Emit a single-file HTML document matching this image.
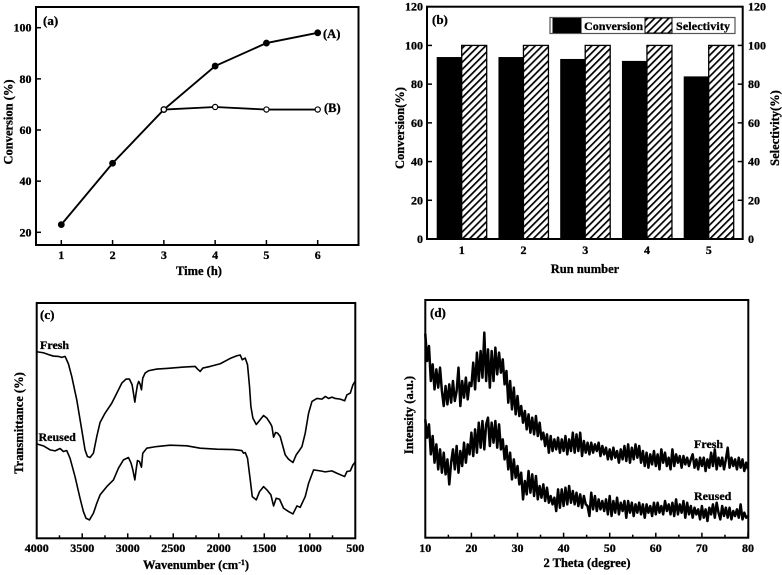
<!DOCTYPE html>
<html>
<head>
<meta charset="utf-8">
<title>Catalyst performance panels</title>
<style>
html,body{margin:0;padding:0;background:#fff;}
#figure{display:block;width:782px;height:575px;filter:blur(0.35px);}
text{font-family:"Liberation Serif",serif;font-weight:bold;fill:#000;stroke:#000;stroke-width:0.3px;font-size:12px;}
.title{font-size:12.5px;}
</style>
</head>
<body>
<svg id="figure" xmlns="http://www.w3.org/2000/svg" width="782" height="575" viewBox="0 0 782 575">
<defs>
<pattern id="hatch" patternUnits="userSpaceOnUse" width="5" height="5" patternTransform="rotate(45)">
<rect width="5" height="5" fill="#fff"/>
<rect width="1.7" height="5" fill="#000"/>
</pattern>
</defs>
<g id="panel-a"></g>
<g id="panel-b"></g>
<g id="panel-c"></g>
<g id="panel-d"></g>

<text x="43" y="25" style="font-size:13px">(a)</text>
<text x="323" y="38" style="font-size:12.5px">(A)</text>
<text x="324" y="112" style="font-size:12.5px">(B)</text>
<text class="title" x="199" y="275" text-anchor="middle">Time (h)</text>
<text class="title" transform="translate(12.5,122) rotate(-90)" text-anchor="middle">Conversion (%)</text>

<text x="432" y="24" style="font-size:13px">(b)</text>
<text class="title" x="585" y="273" text-anchor="middle">Run number</text>
<text class="title" transform="translate(404,128) rotate(-90)" text-anchor="middle">Conversion(%)</text>
<text class="title" transform="translate(779,128) rotate(-90)" text-anchor="middle">Selectivity(%)</text>

<text x="40" y="319" style="font-size:13px">(c)</text>
<text x="40" y="349">Fresh</text>
<text x="38.5" y="441">Reused</text>
<text class="title" x="196" y="569" text-anchor="middle">Wavenumber (cm<tspan dy="-4" style="font-size:8px">-1</tspan><tspan dy="4">)</tspan></text>
<text class="title" transform="translate(23,423) rotate(-90)" text-anchor="middle">Transmittance (%)</text>

<text x="430" y="317" style="font-size:13px">(d)</text>
<text x="694" y="448">Fresh</text>
<text x="694" y="500">Reused</text>
<text class="title" x="587" y="567" text-anchor="middle">2 Theta (degree)</text>
<text class="title" transform="translate(413,415) rotate(-90)" text-anchor="middle">Intensity (a.u.)</text>
</svg>

<script>
// Panel (a)
var timeTicks = [1, 2, 3, 4, 5, 6];
var conversionTicks = [20, 40, 60, 80, 100];
var seriesATime = [1, 2, 3, 4, 5, 6];
var seriesAValues = [23, 47, 68, 85, 94, 98];
var seriesBTime = [3, 4, 5, 6];
var seriesBValues = [68, 69, 68, 68];

// Panel (b)
var runNumbers = [1, 2, 3, 4, 5];
var runConversion = [94, 94, 93, 92, 84];
var runSelectivity = [100, 100, 100, 100, 100];
var percentTicks = [0, 20, 40, 60, 80, 100, 120];

// Panel (c)
var wavenumberMajorTicks = [4000, 3500, 3000, 2500, 2000, 1500, 1000, 500];
var wavenumberMinorTicks = [3750, 3250, 2750, 2250, 1750, 1250, 750];
var ftirFreshWave = [4000,3927,3853,3817,3762,3725,3688,3652,3615,3560,3505,3469,3443,3414,3377,3340,3304,3249,3175,3120,3065,3018,2981,2952,2937,2922,2908,2893,2879,2864,2849,2835,2809,2772,2681,2571,2387,2259,2233,2204,2175,2094,1984,1874,1801,1764,1742,1709,1684,1662,1647,1625,1588,1552,1508,1471,1435,1416,1398,1376,1354,1325,1295,1270,1233,1185,1149,1123,1086,1050,1013,976,921,866,830,793,757,720,665,617,592,555,526,496];
var ftirFreshValues = [559,556,549,546,545,542,545,523,485,415,325,265,245,242,255,305,347,375,405,435,465,477,477,460,435,408,435,460,470,462,445,480,495,502,507,509,513,515,507,500,510,515,523,539,547,549,535,540,520,455,395,360,341,353,368,360,345,335,303,317,315,305,275,250,237,227,250,260,275,315,375,410,419,417,425,419,423,419,417,412,430,435,460,473];
var ftirReusedWave = [4000,3927,3853,3798,3743,3707,3670,3634,3579,3524,3487,3458,3421,3377,3340,3304,3230,3157,3102,3047,2992,2963,2944,2922,2908,2893,2871,2849,2835,2791,2681,2534,2351,2204,2021,1838,1746,1728,1709,1684,1654,1632,1588,1552,1508,1471,1427,1398,1369,1332,1288,1233,1185,1141,1105,1050,1013,958,885,830,757,702,617,592,555,526,496];
var ftirReusedValues = [283,277,265,262,269,260,263,240,185,120,80,60,55,75,105,130,155,175,210,235,242,225,205,175,205,233,230,213,255,270,275,279,277,270,267,266,263,255,257,240,175,125,115,140,155,145,130,97,120,117,90,80,73,97,93,125,165,205,202,199,202,195,185,200,202,220,230];

// Panel (d)
var thetaMajorTicks = [10, 20, 30, 40, 50, 60, 70, 80];
var thetaMinorTicks = [15, 25, 35, 45, 55, 65, 75];
var xrdThetaStart = 10;
var xrdThetaStep = 0.4;
var xrdFreshValues = [612,530,575,470,520,445,505,450,510,440,395,455,400,460,405,470,410,440,510,395,470,420,480,415,465,455,525,445,555,470,560,480,615,470,565,450,560,470,570,490,555,495,535,460,500,405,470,385,450,370,425,365,395,345,380,325,370,315,360,310,365,305,345,295,315,275,310,255,305,260,295,265,300,255,295,260,305,250,295,260,315,255,310,260,315,245,290,255,285,250,285,255,280,260,285,245,275,250,270,235,265,235,270,240,260,225,265,235,275,230,280,225,270,235,280,240,275,225,260,215,255,210,250,220,260,215,250,205,265,225,255,215,240,205,265,215,250,225,245,210,245,220,240,215,235,250,210,235,205,240,215,240,200,235,210,255,215,265,205,240,215,240,205,235,270,210,240,215,235,205,240,210,235,200,225,205];
var xrdReusedValues = [355,300,340,250,305,225,280,205,265,195,255,190,235,160,225,265,205,275,195,260,215,285,225,280,250,315,245,325,255,345,270,350,265,340,360,275,345,285,350,270,340,265,295,235,275,205,255,175,235,180,215,160,195,115,170,130,200,135,190,125,185,115,155,120,160,110,150,105,125,100,120,80,145,90,145,95,150,100,155,105,140,100,135,95,130,90,125,100,95,65,135,85,125,80,115,85,110,80,115,70,125,65,110,75,120,70,105,80,110,60,110,75,105,65,100,75,105,70,100,60,100,75,95,65,105,70,105,75,95,70,110,80,100,70,105,65,115,70,100,75,110,60,105,70,95,60,90,70,85,55,95,60,85,50,90,70,100,60,105,75,55,95,65,90,60,90,55,80,65,85,60,100,55,75,60,65];

var SVGNS = 'http://www.w3.org/2000/svg';
var INK = '#000';

function shape(parent, tag, props) {
  var n = document.createElementNS(SVGNS, tag);
  for (var k in props) n.setAttribute(k, props[k]);
  parent.appendChild(n);
  return n;
}
function scale(d0, d1, r0, r1) {
  return function (v) { return r0 + (v - d0) / (d1 - d0) * (r1 - r0); };
}
function pathFrom(xs, ys, fx, fy) {
  var d = '';
  for (var i = 0; i < ys.length; i++) {
    d += (i ? 'L' : 'M') + fx(xs[i]).toFixed(2) + ' ' + fy(ys[i]).toFixed(2);
  }
  return d;
}
function frame(parent, x0, y0, x1, y1) {
  var r = shape(parent, 'rect', {x: x0, y: y0, width: x1 - x0, height: y1 - y0, fill: 'none', stroke: INK, 'stroke-width': 2});
  
  
}
function xTicks(parent, values, fx, yBase, len, labelY) {
  values.forEach(function (v) {
    var t = shape(parent, 'line', {x1: fx(v), x2: fx(v), y1: yBase, y2: yBase - len, stroke: INK, 'stroke-width': 1.5});
    
    
    if (labelY !== null) {
      var l = shape(parent, 'text', {x: fx(v), y: labelY, 'text-anchor': 'middle'});
      l.textContent = v;
      
      
    }
  });
}
function yTicks(parent, values, fy, xBase, len, labelX, anchor) {
  values.forEach(function (v) {
    var t = shape(parent, 'line', {x1: xBase, x2: xBase + len, y1: fy(v), y2: fy(v), stroke: INK, 'stroke-width': 1.5});
    
    
    var l = shape(parent, 'text', {x: labelX, y: fy(v) + 4, 'text-anchor': anchor});
    l.textContent = v;
    
    
  });
}
function markers(parent, xs, ys, fx, fy, fill, r, name) {
  ys.forEach(function (v, i) {
    var c = shape(parent, 'circle', {cx: fx(xs[i]), cy: fy(v), r: r, fill: fill, stroke: INK, 'stroke-width': 1.2});
    
    
  });
}

/* ---------- panel a ---------- */
(function () {
  var g = document.getElementById('panel-a');
  var fx = scale(1, 6, 61.3, 317.7);
  var fy = scale(20, 100, 232.3, 27.7);
  var lineB = shape(g, 'path', {d: pathFrom(seriesBTime, seriesBValues, fx, fy), fill: 'none', stroke: INK, 'stroke-width': 1.8});
  
  
  var lineA = shape(g, 'path', {d: pathFrom(seriesATime, seriesAValues, fx, fy), fill: 'none', stroke: INK, 'stroke-width': 1.9});
  
  
  markers(g, seriesATime, seriesAValues, fx, fy, INK, 2.8, 'series-a-point');
  markers(g, seriesBTime, seriesBValues, fx, fy, '#fff', 2.6, 'series-b-point');
  frame(g, 36, 7, 358.5, 245);
  xTicks(g, timeTicks, fx, 245, 5, 259);
  yTicks(g, conversionTicks, fy, 36, 5, 31.5, 'end');
})();

/* ---------- panel b ---------- */
(function () {
  var g = document.getElementById('panel-b');
  var fx = scale(1, 5, 461.7, 708.7);
  var fy = scale(0, 120, 239, 6.7);
  var barW = 25;
  runNumbers.forEach(function (run, i) {
    var c = shape(g, 'rect', {x: fx(run) - barW, y: fy(runConversion[i]), width: barW, height: fy(0) - fy(runConversion[i]), fill: INK});
    
    
    var s = shape(g, 'rect', {x: fx(run), y: fy(runSelectivity[i]), width: barW, height: fy(0) - fy(runSelectivity[i]), fill: 'url(#hatch)', stroke: INK, 'stroke-width': 1.3});
    
    
  });
  frame(g, 427, 6.7, 742.7, 239);
  xTicks(g, runNumbers, fx, 239, 0, 254);
  yTicks(g, percentTicks, fy, 427, 5, 423, 'end');
  yTicks(g, percentTicks, fy, 742.7, -5, 748, 'start');

  var legend = shape(g, 'g', {});
  
  
  var box = shape(legend, 'rect', {x: 550, y: 17.5, width: 185, height: 16, fill: '#fff', stroke: '#555', 'stroke-width': 1.2});
  
  
  var sw1 = shape(legend, 'rect', {x: 552.5, y: 18, width: 29, height: 15, fill: INK});
  
  
  var t1 = shape(legend, 'text', {x: 584, y: 30, textLength: 59});
  t1.textContent = 'Conversion';
  
  
  var sw2 = shape(legend, 'rect', {x: 645, y: 18, width: 27, height: 15, fill: 'url(#hatch)', stroke: INK, 'stroke-width': 1});
  
  
  var t2 = shape(legend, 'text', {x: 676, y: 30, textLength: 54});
  t2.textContent = 'Selectivity';
  
  
})();

/* ---------- panel c ---------- */
(function () {
  var g = document.getElementById('panel-c');
  var fx = scale(4000, 500, 36.7, 355.3);
  var fy = scale(0, 705, 538.3, 303);
  var f = shape(g, 'path', {d: pathFrom(ftirFreshWave, ftirFreshValues, fx, fy), fill: 'none', stroke: INK, 'stroke-width': 1.6, 'stroke-linejoin': 'round'});
  
  
  var r = shape(g, 'path', {d: pathFrom(ftirReusedWave, ftirReusedValues, fx, fy), fill: 'none', stroke: INK, 'stroke-width': 1.6, 'stroke-linejoin': 'round'});
  
  
  frame(g, 36.7, 303, 355.3, 538.3);
  xTicks(g, wavenumberMajorTicks, fx, 538.3, 5, 552);
  xTicks(g, wavenumberMinorTicks, fx, 538.3, 3, null);
})();

/* ---------- panel d ---------- */
(function () {
  var g = document.getElementById('panel-d');
  var fx = scale(10, 80, 425.3, 748);
  var fy = scale(0, 713, 537.7, 300);
  var thetas = xrdFreshValues.map(function (v, i) { return xrdThetaStart + i * xrdThetaStep; });
  var f = shape(g, 'path', {d: pathFrom(thetas, xrdFreshValues, fx, fy), fill: 'none', stroke: INK, 'stroke-width': 2.5, 'stroke-linejoin': 'round'});
  
  
  var r = shape(g, 'path', {d: pathFrom(thetas, xrdReusedValues, fx, fy), fill: 'none', stroke: INK, 'stroke-width': 2.5, 'stroke-linejoin': 'round'});
  
  
  frame(g, 425.3, 300, 748.3, 537.7);
  xTicks(g, thetaMajorTicks, fx, 537.7, 5, 552);
  xTicks(g, thetaMinorTicks, fx, 537.7, 3, null);
})();
</script>
</body>
</html>
